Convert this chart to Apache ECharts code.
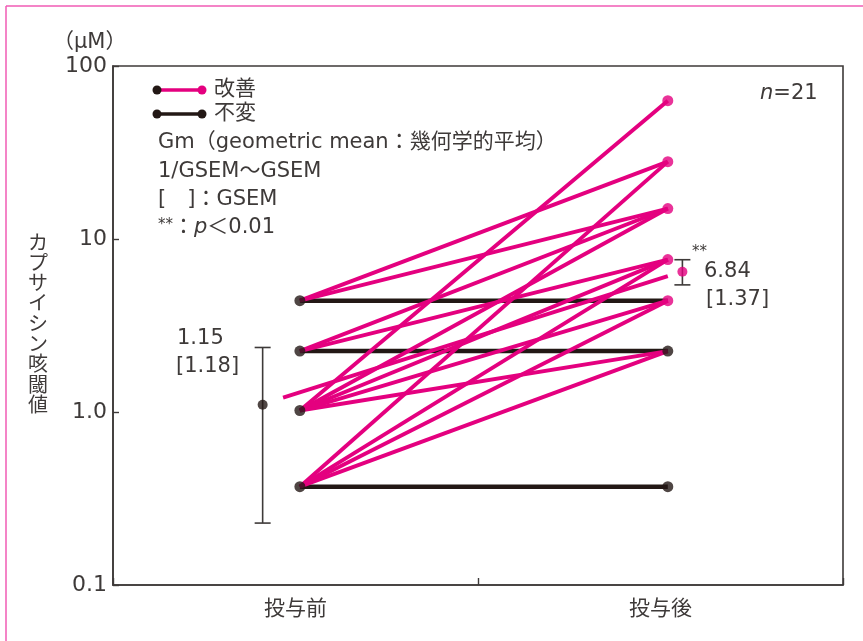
<!DOCTYPE html>
<html>
<head>
<meta charset="utf-8">
<script src="https://cdn.jsdelivr.net/npm/echarts@6/dist/echarts.min.js"></script>
<style>
html,body{margin:0;padding:0;background:#fff;}
#chart{width:863px;height:641px;}
</style>
</head>
<body>
<div id="chart"></div>
<script>
// ---- data ----
const categories = ['投与前', '投与後'];
const yTickLabels = ['0.1', '1.0', '10', '100'];
const yAxisName = 'カプサイシン咳閾値';
const unitLabel = '（μM）';
// improved subjects (pink): value before / after
const improvedPre  = [4.4, 4.4, 2.25, 2.25, 1.02, 1.02, 1.02, 1.02, 1.02, 0.37, 0.37, 0.37, 0.37];
const improvedPost = [28,  15,  15,   7.6,  63,   15,   7.6,  4.4,  2.25, 28,   7.6,  4.4,  2.25];
// unchanged subjects (black)
const unchanged = [4.4, 2.25, 0.37];
// dots
const preDots = [4.4, 2.25, 1.02, 0.37];
const postPinkDots = [63, 28, 15, 7.6, 4.4];
const postBlackDots = [2.25, 0.37];
// geometric means with 1/GSEM ~ GSEM range
const gmValues = [1.1, 6.47];
const gmLow = [0.228, 5.43];
const gmHigh = [2.36, 7.59];
const gmText = ['1.15', '6.84'];
const gsemText = ['[1.18]', '[1.37]'];
const gmTrend = [1.21, 6.1];
const legendNames = ['改善', '不変'];
const noteLines = ['Gm（geometric mean：幾何学的平均）', '1/GSEM〜GSEM', '[　]：GSEM'];

// ---- styling / layout ----
const PINK = '#e4007f';
const BLACK = '#231815';
const TEXT = '#3e3a39';
const FONT = "'DejaVu Sans ExtraLight', 'DejaVu Sans', 'Noto Sans CJK JP', sans-serif";
const xPos = { pre: 0.256, post: 0.760, gmPre: 0.205, gmPost: 0.780, trendStart: 0.233 };

const series = [];
unchanged.forEach(v => {
  series.push({
    type: 'line', xAxisIndex: 1, yAxisIndex: 0, z: 2,
    data: [[xPos.pre, v], [xPos.post, v]],
    showSymbol: false, symbol: 'none', silent: true,
    lineStyle: { color: BLACK, width: 4.5 }
  });
});
improvedPre.forEach((v, i) => {
  series.push({
    type: 'line', xAxisIndex: 1, yAxisIndex: 0, z: 3,
    data: [[xPos.pre, v], [xPos.post, improvedPost[i]]],
    showSymbol: false, symbol: 'none', silent: true,
    lineStyle: { color: PINK, width: 3.9 }
  });
});
// geometric mean trend line
series.push({
  type: 'line', xAxisIndex: 1, yAxisIndex: 0, z: 3,
  data: [[xPos.trendStart, gmTrend[0]], [xPos.post, gmTrend[1]]],
  showSymbol: false, symbol: 'none', silent: true,
  lineStyle: { color: PINK, width: 3.9 }
});
series.push({
  type: 'scatter', xAxisIndex: 1, yAxisIndex: 0, z: 5,
  symbolSize: 11, itemStyle: { color: BLACK },
  data: preDots.map(v => [xPos.pre, v])
});
series.push({
  type: 'scatter', xAxisIndex: 1, yAxisIndex: 0, z: 5,
  symbolSize: 11, itemStyle: { color: BLACK },
  data: postBlackDots.map(v => [xPos.post, v])
});
series.push({
  type: 'scatter', xAxisIndex: 1, yAxisIndex: 0, z: 5,
  symbolSize: 11, itemStyle: { color: PINK },
  data: postPinkDots.map(v => [xPos.post, v])
});
// error bars
series.push({
  type: 'custom', xAxisIndex: 1, yAxisIndex: 0, z: 4,
  data: [[xPos.gmPre, gmLow[0], gmHigh[0]], [xPos.gmPost, gmLow[1], gmHigh[1]]],
  encode: { x: 0, y: [1, 2] },
  renderItem: function (params, api) {
    const x = api.value(0);
    const lo = api.coord([x, api.value(1)]);
    const hi = api.coord([x, api.value(2)]);
    const w = 8;
    const st = { stroke: TEXT, lineWidth: 1.6 };
    return {
      type: 'group',
      children: [
        { type: 'line', shape: { x1: lo[0], y1: lo[1], x2: hi[0], y2: hi[1] }, style: st },
        { type: 'line', shape: { x1: lo[0] - w, y1: lo[1], x2: lo[0] + w, y2: lo[1] }, style: st },
        { type: 'line', shape: { x1: hi[0] - w, y1: hi[1], x2: hi[0] + w, y2: hi[1] }, style: st }
      ]
    };
  }
});
series.push({
  type: 'scatter', xAxisIndex: 1, yAxisIndex: 0, z: 6,
  symbolSize: 10,
  data: [
    { value: [xPos.gmPre, gmValues[0]], itemStyle: { color: BLACK } },
    { value: [xPos.gmPost, gmValues[1]], itemStyle: { color: PINK } }
  ]
});

const txt = (x, y, text, extra) => Object.assign({
  type: 'text', x: x, y: y, z: 10,
  style: Object.assign({ text: text, fill: TEXT, font: '21px ' + FONT, textVerticalAlign: 'middle' }, extra || {})
});

const graphic = [
  // outer frame lines
  { type: 'line', shape: { x1: 6, y1: 6, x2: 863, y2: 6 }, style: { stroke: '#f05bb5', lineWidth: 1.5 } },
  { type: 'line', shape: { x1: 6, y1: 6, x2: 6, y2: 641 }, style: { stroke: '#f05bb5', lineWidth: 1.5 } },
  txt(53, 43, unitLabel, { font: '21px ' + FONT }),
  // legend
  { type: 'line', shape: { x1: 157, y1: 90, x2: 202, y2: 90 }, style: { stroke: PINK, lineWidth: 3.5 } },
  { type: 'circle', shape: { cx: 157, cy: 90, r: 4.5 }, style: { fill: BLACK } },
  { type: 'circle', shape: { cx: 202, cy: 90, r: 4.5 }, style: { fill: PINK } },
  txt(214, 90, legendNames[0]),
  { type: 'line', shape: { x1: 157, y1: 114, x2: 202, y2: 114 }, style: { stroke: BLACK, lineWidth: 3.5 } },
  { type: 'circle', shape: { cx: 157, cy: 114, r: 4.5 }, style: { fill: BLACK } },
  { type: 'circle', shape: { cx: 202, cy: 114, r: 4.5 }, style: { fill: BLACK } },
  txt(214, 114, legendNames[1]),
  txt(158, 143, noteLines[0]),
  txt(158, 172, noteLines[1]),
  txt(158, 200, noteLines[2]),
  {
    type: 'text', x: 158, y: 228, z: 10,
    style: {
      text: '{s|**}：{i|p}＜0.01',
      fill: TEXT, font: '21px ' + FONT, textVerticalAlign: 'middle',
      rich: {
        s: { fontSize: 15, fill: TEXT, fontFamily: FONT, verticalAlign: 'top', padding: [0, 0, 6, 0] },
        i: { fontSize: 21, fill: TEXT, fontFamily: FONT, fontStyle: 'italic' }
      }
    }
  },
  {
    type: 'text', x: 760, y: 94, z: 10,
    style: {
      text: '{i|n}=21',
      fill: TEXT, font: '21px ' + FONT, textVerticalAlign: 'middle',
      rich: { i: { fontSize: 21, fill: TEXT, fontFamily: FONT, fontStyle: 'italic' } }
    }
  },
  txt(177, 339, gmText[0]),
  txt(176, 367, gsemText[0]),
  txt(692, 252, '**', { font: '15px ' + FONT }),
  txt(704, 272, gmText[1]),
  txt(706, 300, gsemText[1])
];

const chart = echarts.init(document.getElementById('chart'));
chart.setOption({
  backgroundColor: '#fff',
  animation: false,
  grid: { left: 113, right: 20, top: 66, bottom: 56, show: true, borderColor: TEXT, borderWidth: 1.6, backgroundColor: 'transparent' },
  xAxis: [
    {
      type: 'category', data: categories, boundaryGap: true, position: 'bottom',
      axisLine: { lineStyle: { color: TEXT, width: 1.6 } },
      axisTick: { show: true, inside: true, length: 7, lineStyle: { color: TEXT, width: 1.4 } },
      axisLabel: { color: TEXT, fontSize: 21, fontFamily: FONT, margin: 14 },
      splitLine: { show: false }
    },
    { type: 'value', min: 0, max: 1, show: false }
  ],
  yAxis: {
    type: 'log', logBase: 10, min: 0.1, max: 100,
    name: yAxisName.split('').join('\n'),
    nameLocation: 'middle', nameRotate: 0, nameGap: 65,
    nameTextStyle: { color: TEXT, fontSize: 20, lineHeight: 20.3, fontFamily: FONT },
    axisLine: { show: true, lineStyle: { color: TEXT, width: 1.6 } },
    axisTick: { show: true, inside: true, length: 6, lineStyle: { color: TEXT, width: 1.4 } },
    axisLabel: {
      color: TEXT, fontSize: 22, fontFamily: FONT, margin: 6,
      formatter: function (v) {
        const idx = Math.round(Math.log10(v)) + 1;
        return yTickLabels[idx] !== undefined ? yTickLabels[idx] : '';
      }
    },
    splitLine: { show: false },
    minorTick: { show: false }
  },
  graphic: graphic,
  series: series
});
</script>
</body>
</html>
